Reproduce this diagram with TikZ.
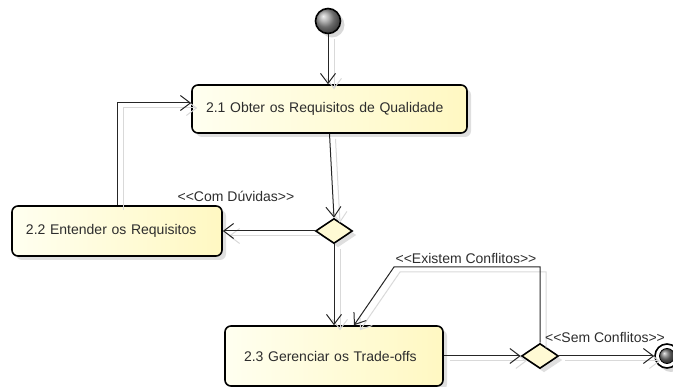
\documentclass[tikz,border=0pt]{standalone}
\usepackage{fontspec}
\setmainfont{Liberation Sans}
\usetikzlibrary{arrows.meta,shapes.geometric,shadows,calc}

\definecolor{actleft}{RGB}{255,255,240}
\definecolor{actright}{RGB}{255,248,194}
\definecolor{txt}{RGB}{45,45,45}

\tikzset{
  action/.style={rectangle, rounded corners=6pt, draw=black, line width=1.6pt,
    left color=actleft, right color=actright,
    drop shadow={shadow xshift=4pt, shadow yshift=-4pt, fill=black!25},
    font=\fontsize{14}{16}\selectfont, text=txt, align=left,
    inner xsep=14pt, inner ysep=0pt},
  decision/.style={diamond, draw=black, line width=1.6pt, fill=actright!70!white,
    inner sep=0pt, minimum width=37pt, minimum height=25pt,
    drop shadow={shadow xshift=4pt, shadow yshift=-4pt, fill=black!25}},
  conn/.style={draw=black!85, line width=1pt, -{Straight Barb[length=10pt,width=15pt]}},
  connshadow/.style={draw=black!15, line width=1pt, -{Straight Barb[length=10pt,width=15pt]},
    transform canvas={xshift=6pt, yshift=-5pt}},
  guard/.style={font=\fontsize{14}{16}\selectfont, text=txt, inner sep=0pt}
}

\begin{document}
\begin{tikzpicture}[x=1pt, y=-1pt]
  \useasboundingbox (0,0) rectangle (673,387);

  % initial and final states
  \fill[black!15] (332,25) circle (12.5);
  \node[circle, draw=black, line width=1.6pt, ball color=black!40, minimum size=25pt, inner sep=0pt] (init) at (328,21) {};

  \fill[black!15] (671,360) circle (12);
  \node[circle, draw=black, line width=1.6pt, fill=white, minimum size=24pt, inner sep=0pt] (fin) at (667,356) {};
  \shade[ball color=black!55, draw=black, line width=0.8pt] (fin.center) circle (7.5);

  % activities
  \node[action, minimum width=275pt, minimum height=48pt, text width=247pt] (a21) at (329.5,109) {2.1 Obter os Requisitos de Qualidade};
  \node[action, minimum width=210pt, minimum height=50pt, text width=182pt] (a22) at (117,231) {2.2 Entender os Requisitos};
  \node[action, minimum width=218pt, minimum height=60pt, inner xsep=19pt, text width=180pt] (a23) at (334,356) {2.3 Gerenciar os Trade-offs};

  % decisions
  \node[decision] (d1) at (334,231) {};
  \node[decision] (d2) at (540,356) {};

  % bend points
  \coordinate (e1) at (394,267);
  \coordinate (a21in) at ([yshift=6pt]a21.west);
  \coordinate (a23in) at ([xshift=20pt]a23.north);

  % connector shadows
  \path[connshadow] (init.south) -- (init |- a21.north);
  \path[connshadow] (a21.south) -- (d1.north);
  \path[connshadow] (d1.west) -- (a22.east);
  \path[connshadow] (a22.north) |- (a21in);
  \path[connshadow] (d1.south) -- (a23.north);
  \path[connshadow] (a23.east) -- (d2.west);
  \path[connshadow] (d2.north) |- (e1) -- (a23in);
  \path[connshadow] (d2.east) -- (fin.west);

  % connectors
  \path[conn] (init.south) -- (init |- a21.north);
  \path[conn] (a21.south) -- (d1.north);
  \path[conn] (d1.west) -- (a22.east);
  \path[conn] (a22.north) |- (a21in);
  \path[conn] (d1.south) -- (a23.north);
  \path[conn] (a23.east) -- (d2.west);
  \path[conn] (d2.north) |- (e1) -- (a23in);
  \path[conn] (d2.east) -- (fin.west);

  % guards
  \node[guard] (g1) at (236,196) {<{}<Com Dúvidas>{}>};
  \node[guard] (g2) at (466,258) {<{}<Existem Conflitos>{}>};
  \node[guard] (g3) at (605,337) {<{}<Sem Conflitos>{}>};
\end{tikzpicture}
\end{document}
